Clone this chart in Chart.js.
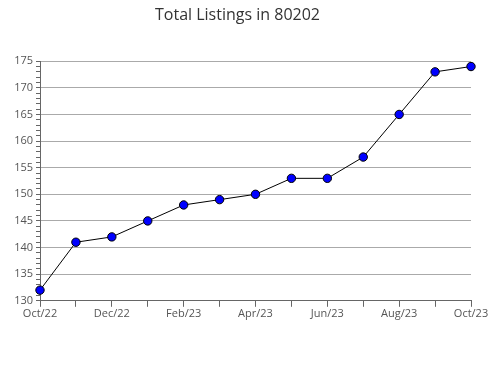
<!DOCTYPE html>
<html><head><meta charset="utf-8">
<script src="https://cdn.jsdelivr.net/npm/chart.js@4/dist/chart.umd.min.js"></script>
<style>html,body{margin:0;padding:0;background:#fff;}#wrap{width:490px;height:380px;}</style>
</head><body><div id="wrap"><canvas id="c" width="490" height="380"></canvas></div>
<script>
const months = ["Oct/22","Nov/22","Dec/22","Jan/23","Feb/23","Mar/23","Apr/23","May/23","Jun/23","Jul/23","Aug/23","Sep/23","Oct/23"];
const listings = [132,141,142,145,148,149,150,153,153,157,165,173,174];
const yMin = 130, yMax = 175, yMajor = 5;

new Chart(document.getElementById('c'), {
  type: 'line',
  data: { labels: months, datasets: [{
    data: listings, borderColor: '#000', borderWidth: 1, tension: 0,
    pointRadius: 4.2, pointBackgroundColor: '#0000ff', pointBorderColor: '#000', pointBorderWidth: 1
  }]},
  options: {
    responsive: false, animation: false,
    layout: { padding: { left: 4, right: 19, top: 0, bottom: 60 } },
    plugins: {
      legend: { display: false }, tooltip: { enabled: false },
      title: { display: true, text: 'Total Listings in 80202', color: '#333',
        font: { family: 'Open Sans', size: 16, weight: 'normal' }, padding: { top: 6, bottom: 36 } }
    },
    scales: {
      x: {
        offset: false,
        grid: { drawOnChartArea: false, drawTicks: true, tickLength: 6, color: '#666' },
        border: { color: '#666' },
        ticks: { autoSkip: false, maxRotation: 0, color: '#555', padding: 0,
          font: { family: 'Open Sans', size: 11 },
          callback: (v, i) => i % 2 === 0 ? months[i] : '' }
      },
      y: {
        min: yMin, max: yMax,
        afterFit: s => { s.width = 36; },
        grid: { tickLength: 4,
          color: c => (c.tick && c.tick.value % yMajor === 0 && c.tick.value !== yMin) ? '#aaa' : 'rgba(0,0,0,0)',
          tickColor: '#666' },
        border: { color: '#666' },
        ticks: { stepSize: 1, autoSkip: false, color: '#555', padding: 3,
          font: { family: 'Open Sans', size: 11 },
          callback: v => v % yMajor === 0 ? v : '' }
      }
    }
  }
});
</script></body></html>
